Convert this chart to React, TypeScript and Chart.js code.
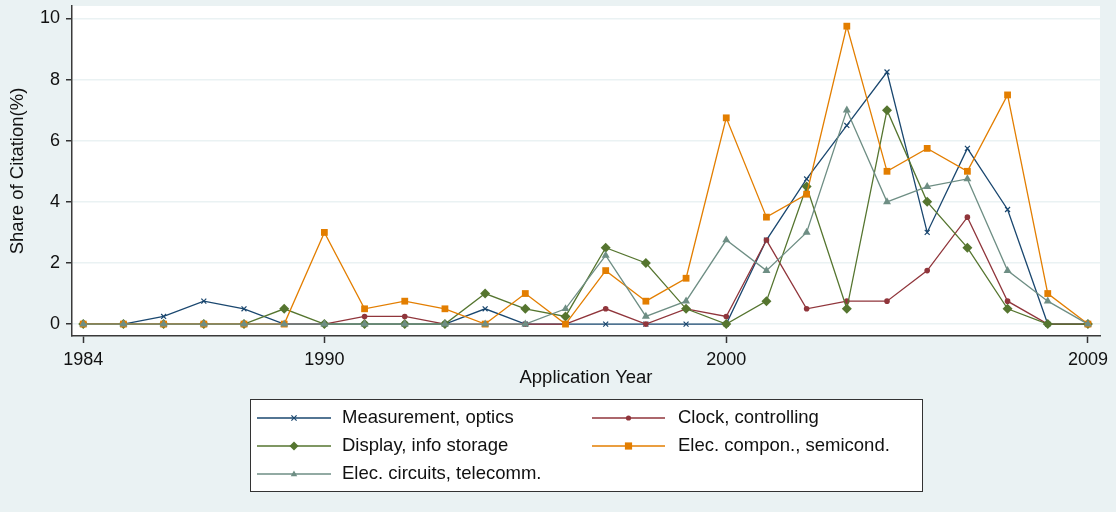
import React, { useEffect, useRef } from "react";
import { Chart, registerables } from "chart.js";

Chart.register(...registerables);

const years = [1984, 1985, 1986, 1987, 1988, 1989, 1990, 1991, 1992, 1993, 1994, 1995, 1996, 1997, 1998, 1999, 2000, 2001, 2002, 2003, 2004, 2005, 2006, 2007, 2008, 2009];
const xTicks = [1984, 1990, 2000, 2009];
const yTicks = [0, 2, 4, 6, 8, 10];

const measurementOptics = [0, 0, 0.25, 0.75, 0.5, 0, 0, 0, 0, 0, 0.5, 0, 0, 0, 0, 0, 0, 2.75, 4.75, 6.5, 8.25, 3.0, 5.75, 3.75, 0, 0];
const clockControlling = [0, 0, 0, 0, 0, 0, 0, 0.25, 0.25, 0, 0, 0, 0, 0.5, 0, 0.5, 0.25, 2.75, 0.5, 0.75, 0.75, 1.75, 3.5, 0.75, 0, 0];
const displayInfoStorage = [0, 0, 0, 0, 0, 0.5, 0, 0, 0, 0, 1.0, 0.5, 0.25, 2.5, 2.0, 0.5, 0, 0.75, 4.5, 0.5, 7.0, 4.0, 2.5, 0.5, 0, 0];
const elecComponSemicond = [0, 0, 0, 0, 0, 0, 3.0, 0.5, 0.75, 0.5, 0, 1.0, 0, 1.75, 0.75, 1.5, 6.75, 3.5, 4.25, 9.75, 5.0, 5.75, 5.0, 7.5, 1.0, 0];
const elecCircuitsTelecomm = [0, 0, 0, 0, 0, 0, 0, 0, 0, 0, 0, 0, 0.5, 2.25, 0.25, 0.75, 2.75, 1.75, 3.0, 7.0, 4.0, 4.5, 4.75, 1.75, 0.75, 0];

const seriesNames = ["Measurement, optics", "Clock, controlling", "Display, info storage", "Elec. compon., semicond.", "Elec. circuits, telecomm."];
const seriesValues = [measurementOptics, clockControlling, displayInfoStorage, elecComponSemicond, elecCircuitsTelecomm];
const seriesColors = ["#1a476f", "#90353b", "#55752f", "#e37e00", "#6e8e84"];
const seriesMarkers = ["crossRot", "circle", "rectRot", "rect", "triangle"];
const seriesRadius = [3.5, 2.8, 5, 4.8, 4.6];

const BG = "#eaf2f3";
const FONT = "'Liberation Sans', Arial, sans-serif";

function drawMarker(ctx: CanvasRenderingContext2D, style: string, x: number, y: number, r: number, color: string) {
  ctx.save();
  ctx.fillStyle = color;
  ctx.strokeStyle = color;
  ctx.lineWidth = 1.2;
  ctx.beginPath();
  if (style === "crossRot") {
    ctx.moveTo(x - r, y - r);
    ctx.lineTo(x + r, y + r);
    ctx.moveTo(x - r, y + r);
    ctx.lineTo(x + r, y - r);
    ctx.stroke();
  } else if (style === "circle") {
    ctx.arc(x, y, r, 0, Math.PI * 2);
    ctx.fill();
  } else if (style === "rectRot") {
    ctx.moveTo(x - r, y);
    ctx.lineTo(x, y - r);
    ctx.lineTo(x + r, y);
    ctx.lineTo(x, y + r);
    ctx.closePath();
    ctx.fill();
  } else if (style === "rect") {
    ctx.rect(x - r, y - r, 2 * r, 2 * r);
    ctx.fill();
  } else if (style === "triangle") {
    ctx.moveTo(x, y - r);
    ctx.lineTo(x + r * 0.9, y + r * 0.6);
    ctx.lineTo(x - r * 0.9, y + r * 0.6);
    ctx.closePath();
    ctx.fill();
  }
  ctx.restore();
}

const legendPlugin = {
  id: "stataLegend",
  afterDraw(chart: any) {
    const ctx: CanvasRenderingContext2D = chart.ctx;
    const box = { x: 250, y: 399, w: 672, h: 92 };
    ctx.save();
    ctx.fillStyle = "#ffffff";
    ctx.fillRect(box.x, box.y, box.w, box.h);
    ctx.strokeStyle = "#333333";
    ctx.lineWidth = 1;
    ctx.strokeRect(box.x + 0.5, box.y + 0.5, box.w, box.h);
    const cols = [{ l0: 257, l1: 331, tx: 342 }, { l0: 592, l1: 665, tx: 678 }];
    const rows = [418, 446, 474];
    const legendR = [2.6, 2.6, 4.5, 3.6, 3.6];
    for (let i = 0; i < seriesNames.length; i++) {
      const c = cols[i % 2];
      const yy = rows[Math.floor(i / 2)];
      ctx.strokeStyle = seriesColors[i];
      ctx.lineWidth = 1.3;
      ctx.beginPath();
      ctx.moveTo(c.l0, yy);
      ctx.lineTo(c.l1, yy);
      ctx.stroke();
      drawMarker(ctx, seriesMarkers[i], (c.l0 + c.l1) / 2, yy, legendR[i], seriesColors[i]);
      ctx.fillStyle = "#111111";
      ctx.font = `18.5px ${FONT}`;
      ctx.textBaseline = "middle";
      ctx.textAlign = "left";
      ctx.fillText(seriesNames[i], c.tx, yy);
    }
    ctx.restore();
  },
};

const plotBgPlugin = {
  id: "plotBg",
  beforeDraw(chart: any) {
    const { ctx, chartArea, width, height } = chart;
    ctx.save();
    ctx.fillStyle = BG;
    ctx.fillRect(0, 0, width, height);
    ctx.fillStyle = "#ffffff";
    ctx.fillRect(chartArea.left, chartArea.top, chartArea.right - chartArea.left, chartArea.bottom - chartArea.top);
    ctx.restore();
  },
};

function zeroPadding(s: any) {
  s.paddingTop = 0;
  s.paddingBottom = 0;
  s.paddingLeft = 0;
  s.paddingRight = 0;
}

export default function App() {
  const canvasRef = useRef<HTMLCanvasElement | null>(null);

  useEffect(() => {
    document.body.style.margin = "0";
    const canvas = canvasRef.current;
    if (!canvas) return;
    const datasets = seriesNames.map((name, i) => ({
      label: name,
      data: years.map((yr, j) => ({ x: yr, y: seriesValues[i][j] })),
      borderColor: seriesColors[i],
      backgroundColor: seriesColors[i],
      pointBackgroundColor: seriesColors[i],
      pointBorderColor: seriesColors[i],
      pointStyle: seriesMarkers[i],
      pointRadius: seriesRadius[i],
      pointBorderWidth: seriesMarkers[i] === "crossRot" ? 1.2 : 0,
      borderWidth: 1.3,
      tension: 0,
      fill: false,
      order: seriesNames.length - i,
    }));

    const chart = new Chart(canvas, {
      type: "line",
      data: { datasets },
      plugins: [plotBgPlugin, legendPlugin],
      options: {
        animation: false,
        responsive: false,
        maintainAspectRatio: false,
        devicePixelRatio: 1,
        layout: { padding: { left: 0, right: 16, top: 6, bottom: 116 } },
        plugins: {
          legend: { display: false },
          tooltip: { enabled: false },
          title: { display: false },
        },
        scales: {
          x: {
            type: "linear",
            min: 1983.72,
            max: 2009.3,
            afterBuildTicks: (s: any) => {
              s.ticks = xTicks.map((v) => ({ value: v }));
            },
            afterFit: (s: any) => {
              s.height = 60;
              zeroPadding(s);
            },
            ticks: {
              autoSkip: false,
              maxRotation: 0,
              padding: 6,
              color: "#111111",
              font: { size: 18, family: FONT },
              callback: (v: any) => String(v),
            },
            grid: {
              display: true,
              drawOnChartArea: false,
              drawTicks: true,
              tickLength: 7,
              tickColor: "#333333",
              tickWidth: 1.5,
            },
            border: { display: true, color: "#3a3a3a", width: 1.5 },
            title: {
              display: true,
              text: "Application Year",
              color: "#111111",
              font: { size: 18.5, family: FONT },
              padding: { top: 0, bottom: 7 },
            },
          },
          y: {
            type: "linear",
            min: -0.39,
            max: 10.41,
            afterBuildTicks: (s: any) => {
              s.ticks = yTicks.map((v) => ({ value: v }));
            },
            afterFit: (s: any) => {
              s.width = 72;
              zeroPadding(s);
            },
            ticks: {
              padding: 6,
              color: "#111111",
              font: { size: 18, family: FONT },
              callback: (v: any) => String(v),
            },
            grid: {
              display: true,
              drawOnChartArea: true,
              drawTicks: true,
              tickLength: 6,
              color: BG,
              lineWidth: 1.5,
              tickColor: "#333333",
              tickWidth: 1.5,
            },
            border: { display: true, color: "#3a3a3a", width: 1.5 },
            title: {
              display: true,
              text: "Share of Citation(%)",
              color: "#111111",
              font: { size: 18.5, family: FONT },
              padding: { top: 7, bottom: 0 },
            },
          },
        },
      },
    } as any);

    return () => {
      chart.destroy();
    };
  }, []);

  return (
    <div style={{ width: 1116, height: 512, background: BG }}>
      <canvas ref={canvasRef} width={1116} height={512} style={{ display: "block" }} />
    </div>
  );
}
